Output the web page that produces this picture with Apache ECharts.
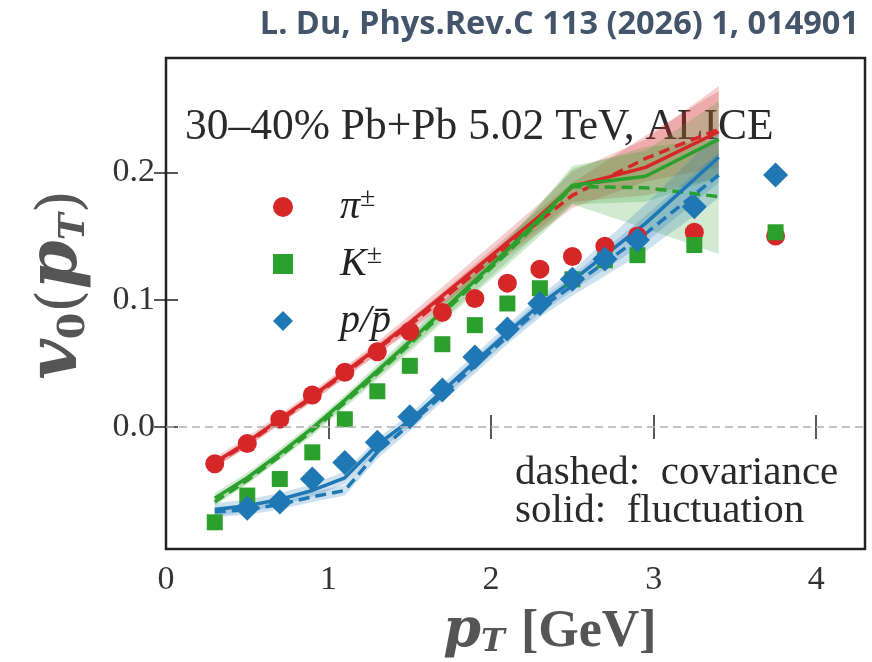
<!DOCTYPE html>
<html>
<head>
<meta charset="utf-8">
<script src="https://cdn.jsdelivr.net/npm/echarts@6/dist/echarts.min.js"></script>
<style>html,body{margin:0;background:#fff}#main{width:872px;height:662px}</style>
</head>
<body>
<div id="main"></div>
<script>
var chart = echarts.init(document.getElementById('main'));

// ALICE points
var xData = [0.3, 0.5, 0.7, 0.9, 1.1, 1.3, 1.5, 1.7, 1.9, 2.1, 2.3, 2.5, 2.7, 2.9, 3.25, 3.75];
var piData = [-0.029, -0.013, 0.006, 0.025, 0.043, 0.059, 0.075, 0.090, 0.101, 0.113, 0.124, 0.134, 0.142, 0.150, 0.153, 0.150];
var kData = [-0.075, -0.054, -0.041, -0.020, 0.006, 0.028, 0.048, 0.065, 0.080, 0.097, 0.109, 0.116, 0.131, 0.135, 0.143, 0.153];
var xProton = [0.5, 0.7, 0.9, 1.1, 1.3, 1.5, 1.7, 1.9, 2.1, 2.3, 2.5, 2.7, 2.9, 3.25, 3.75];
var pData = [-0.064, -0.059, -0.041, -0.028, -0.012, 0.008, 0.029, 0.055, 0.077, 0.097, 0.116, 0.132, 0.147, 0.173, 0.198];

// model curves (solid: fluctuation, dashed: covariance)
var xModel = [0.3, 0.5, 0.7, 0.9, 1.1, 1.3, 1.5, 1.7, 1.9, 2.1, 2.3, 2.5, 2.95, 3.4];
var piSolid = [-0.028, -0.012, 0.006, 0.024, 0.043, 0.062, 0.082, 0.103, 0.124, 0.145, 0.166, 0.189, 0.204, 0.232];
var piDashed = [-0.029, -0.013, 0.005, 0.023, 0.042, 0.061, 0.080, 0.100, 0.121, 0.142, 0.162, 0.182, 0.211, 0.234];
var kSolid = [-0.056, -0.040, -0.021, -0.001, 0.021, 0.044, 0.067, 0.091, 0.115, 0.139, 0.164, 0.190, 0.197, 0.226];
var kDashed = [-0.059, -0.042, -0.023, -0.003, 0.019, 0.042, 0.065, 0.089, 0.113, 0.137, 0.162, 0.189, 0.188, 0.181];
var pSolid = [-0.065, -0.062, -0.057, -0.050, -0.040, -0.014, 0.005, 0.028, 0.051, 0.074, 0.096, 0.115, 0.160, 0.212];
var pDashed = [-0.067, -0.065, -0.061, -0.055, -0.050, -0.020, 0.002, 0.025, 0.048, 0.071, 0.093, 0.111, 0.152, 0.198];

// band half widths
var piSolidErr = [0.004, 0.004, 0.004, 0.004, 0.004, 0.005, 0.006, 0.007, 0.008, 0.009, 0.010, 0.012, 0.022, 0.036];
var piDashedErr = [0.003, 0.003, 0.003, 0.003, 0.004, 0.004, 0.005, 0.006, 0.007, 0.008, 0.009, 0.010, 0.018, 0.030];
var kSolidErr = [0.004, 0.004, 0.004, 0.004, 0.004, 0.005, 0.006, 0.007, 0.008, 0.009, 0.011, 0.015, 0.020, 0.030];
var kDashedErr = [0.003, 0.003, 0.003, 0.004, 0.004, 0.005, 0.006, 0.007, 0.008, 0.010, 0.012, 0.014, 0.032, 0.045];
var pSolidErr = [0.005, 0.005, 0.005, 0.005, 0.005, 0.005, 0.005, 0.006, 0.006, 0.006, 0.007, 0.008, 0.015, 0.020];
var pDashedErr = [0.004, 0.004, 0.004, 0.004, 0.004, 0.005, 0.005, 0.005, 0.006, 0.006, 0.007, 0.008, 0.014, 0.018];

var xTicks = [0, 1, 2, 3, 4];
var yTicks = [0, 0.1, 0.2];

var RED = '#d62728', GREEN = '#2ca02c', BLUE = '#1f77b4';
var SERIF = 'Liberation Serif';

function pairs(xs, ys) {
    return xs.map(function (x, i) { return [x, ys[i]]; });
}

function band(mid, err, color) {
    return {
        type: 'custom',
        coordinateSystem: 'cartesian2d',
        silent: true,
        z: 2,
        data: pairs(xModel, mid),
        renderItem: function (params, api) {
            if (params.dataIndex !== 0) return null;
            var pts = [];
            for (var i = 0; i < xModel.length; i++) pts.push(api.coord([xModel[i], mid[i] + err[i]]));
            for (var j = xModel.length - 1; j >= 0; j--) pts.push(api.coord([xModel[j], mid[j] - err[j]]));
            return {type: 'polygon', shape: {points: pts}, style: {fill: color, opacity: 0.22}};
        }
    };
}

function curve(ys, color, dashed) {
    return {
        type: 'line',
        data: pairs(xModel, ys),
        showSymbol: false,
        symbol: 'none',
        silent: true,
        z: 3,
        lineStyle: {color: color, width: 3.5, type: dashed ? [11, 6] : 'solid'}
    };
}

function points(name, xs, ys, symbol, size, color) {
    return {
        name: name,
        type: 'scatter',
        data: pairs(xs, ys),
        symbol: symbol,
        symbolSize: size,
        z: 4,
        itemStyle: {color: color, opacity: 1}
    };
}

var zeroLine = band(piSolid, piSolidErr, RED);
zeroLine.markLine = {
    silent: true,
    symbol: 'none',
    label: {show: false},
    lineStyle: {color: '#b0b0b0', width: 1.5, type: [8, 5]},
    data: [{yAxis: 0}]
};

function tickAxis(extra) {
    var base = {
        type: 'value',
        axisLine: {show: false},
        splitLine: {show: false},
        axisTick: {inside: true, length: 12, lineStyle: {color: '#222', width: 1.5}},
        axisLabel: {show: false}
    };
    return Object.assign(base, extra);
}

var option = {
    animation: false,
    backgroundColor: '#fff',
    title: {
        text: 'L. Du, Phys.Rev.C 113 (2026) 1, 014901',
        right: 8,
        top: 3,
        textStyle: {fontFamily: 'Open Sans', fontWeight: 'bold', fontSize: 32.5, color: '#44546a'}
    },
    grid: {left: 166, right: 7, top: 58, bottom: 113, show: true, borderColor: '#222', borderWidth: 2.5, backgroundColor: 'transparent'},
    xAxis: [
        tickAxis({min: 0, max: 4.3, position: 'bottom',
            axisTick: {inside: true, length: 12, customValues: xTicks, lineStyle: {color: '#222', width: 1.5}},
            axisLabel: {show: true, customValues: xTicks, margin: 14, fontFamily: SERIF, fontSize: 34, color: '#333'}}),
        tickAxis({min: 0, max: 4.3, position: 'top',
            axisTick: {inside: true, length: 12, customValues: xTicks, lineStyle: {color: '#222', width: 1.5}}})
    ],
    yAxis: [
        tickAxis({min: -0.096, max: 0.29, position: 'left',
            axisTick: {inside: true, length: 12, customValues: yTicks, lineStyle: {color: '#222', width: 1.5}},
            axisLabel: {show: true, customValues: yTicks, margin: 11, fontFamily: SERIF, fontSize: 34, color: '#333',
                formatter: function (v) { return v.toFixed(1); }}}),
        tickAxis({min: -0.096, max: 0.29, position: 'right',
            axisTick: {inside: true, length: 12, customValues: yTicks, lineStyle: {color: '#222', width: 1.5}}})
    ],
    legend: {
        orient: 'vertical',
        left: 268,
        top: 180,
        itemWidth: 20,
        itemHeight: 20,
        itemGap: 13,
        selectedMode: false,
        data: [{name: 'π±', icon: 'circle'}, {name: 'K±', icon: 'rect'}, {name: 'p/p̄', icon: 'diamond'}],
        formatter: function (name) {
            if (name === 'π±') return '{i|π}{s|±}';
            if (name === 'K±') return '{i|K}{s|±}';
            return '{i|p/p\u0304}';
        },
        textStyle: {
            fontFamily: SERIF, fontSize: 40, color: '#222', padding: [0, 0, 0, 42], lineHeight: 44,
            rich: {
                i: {fontFamily: SERIF, fontStyle: 'italic', fontSize: 40, lineHeight: 44, color: '#222'},
                s: {fontFamily: SERIF, fontSize: 28, verticalAlign: 'top', lineHeight: 26, color: '#222'}
            }
        }
    },
    graphic: [
        {type: 'text', left: 185, top: 106, silent: true,
            style: {text: '30–40% Pb+Pb 5.02 TeV, ALICE', font: '43.5px "Liberation Serif"', fill: '#2a2a2a'}},
        {type: 'text', left: 515, top: 453, silent: true,
            style: {text: 'dashed:  covariance', font: '41px "Liberation Serif"', fill: '#2a2a2a'}},
        {type: 'text', left: 515, top: 491, silent: true,
            style: {text: 'solid:  fluctuation', font: '41px "Liberation Serif"', fill: '#2a2a2a'}},
        {type: 'text', x: 58, y: 285, rotation: Math.PI / 2, silent: true,
            style: {
                text: '{v|v}{z|0}{n|(}{v|p}{s|T}{n|)}',
                align: 'center', verticalAlign: 'middle',
                rich: {
                    v: {fontFamily: 'DejaVu Serif', fontWeight: 'bold', fontStyle: 'italic', fontSize: 70, fill: '#555', verticalAlign: 'bottom'},
                    z: {fontFamily: 'DejaVu Serif', fontWeight: 'bold', fontSize: 38, fill: '#555', verticalAlign: 'bottom'},
                    s: {fontFamily: 'DejaVu Serif', fontWeight: 'bold', fontStyle: 'italic', fontSize: 36, fill: '#555', verticalAlign: 'bottom'},
                    n: {fontFamily: 'DejaVu Serif', fontSize: 60, fill: '#555', verticalAlign: 'bottom'}
                }
            }},
        {type: 'text', x: 550, y: 632, silent: true,
            style: {
                text: '{p|p}{t|T}{g|[GeV]}',
                align: 'center', verticalAlign: 'middle',
                rich: {
                    p: {fontFamily: 'DejaVu Serif', fontWeight: 'bold', fontStyle: 'italic', fontSize: 54, fill: '#555', verticalAlign: 'bottom'},
                    t: {fontFamily: 'DejaVu Serif', fontWeight: 'bold', fontStyle: 'italic', fontSize: 32, fill: '#555', verticalAlign: 'bottom'},
                    g: {fontFamily: SERIF, fontWeight: 'bold', fontSize: 52, fill: '#555', verticalAlign: 'bottom', padding: [0, 0, 0, 16]}
                }
            }}
    ],
    series: [
        zeroLine,
        band(piDashed, piDashedErr, RED),
        band(kSolid, kSolidErr, GREEN),
        band(kDashed, kDashedErr, GREEN),
        band(pSolid, pSolidErr, BLUE),
        band(pDashed, pDashedErr, BLUE),
        curve(piSolid, RED, false),
        curve(piDashed, RED, true),
        curve(kSolid, GREEN, false),
        curve(kDashed, GREEN, true),
        curve(pSolid, BLUE, false),
        curve(pDashed, BLUE, true),
        points('π±', xData, piData, 'circle', 19, RED),
        points('K±', xData, kData, 'rect', 16, GREEN),
        points('p/p̄', xProton, pData, 'diamond', 25, BLUE)
    ]
};

chart.setOption(option);
</script>
</body>
</html>
